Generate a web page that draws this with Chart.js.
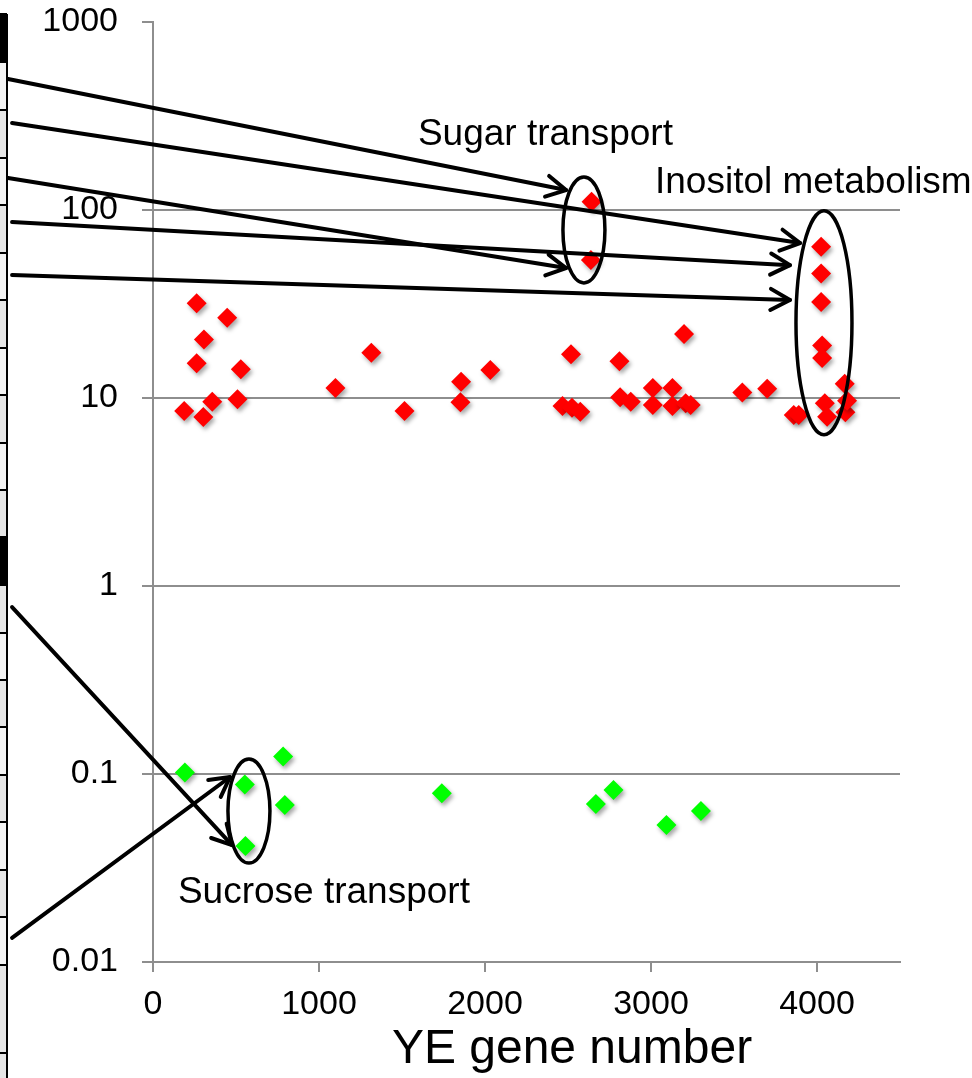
<!DOCTYPE html>
<html><head><meta charset="utf-8">
<script src="https://cdn.jsdelivr.net/npm/chart.js@4.4.1/dist/chart.umd.min.js"></script>
<style>html,body{margin:0;padding:0;background:#fff;}#wrap{width:972px;height:1078px;position:relative;}</style>
</head><body><div id="wrap"><canvas id="c" width="972" height="1078"></canvas></div>
<script>
// ---- data ----
const redGeneNumber = [188, 263, 263, 303, 307, 357, 447, 509, 529, 1099, 1315, 1515, 1852, 1856, 2032, 2467, 2518, 2524, 2574, 2638, 2642, 2810, 2814, 2878, 3011, 3011, 3129, 3129, 3199, 3209, 3239, 3550, 3700, 3860, 3890, 4025, 4025, 4025, 4031, 4031, 4047, 4061, 4167, 4171, 4181];
const redRatio = [8.53, 31.9, 15.3, 7.93, 20.5, 9.55, 26.7, 9.84, 14.2, 11.3, 17.4, 8.53, 9.49, 12.2, 14.1, 9.07, 17.1, 8.88, 8.45, 54.2, 110.7, 15.7, 10.1, 9.55, 11.3, 9.18, 11.3, 9.07, 21.9, 9.37, 9.18, 10.7, 11.2, 8.13, 8.13, 63.8, 46.0, 32.4, 19.0, 16.3, 9.37, 7.96, 11.9, 8.39, 9.67];
const greenGeneNumber = [192, 553, 557, 784, 794, 1740, 2668, 2774, 3093, 3301];
const greenRatio = [0.102, 0.088, 0.0414, 0.124, 0.0684, 0.0789, 0.0692, 0.0822, 0.0536, 0.0635];
const xTickValues = [0, 1000, 2000, 3000, 4000];
const yTickValues = [0.01, 0.1, 1, 10, 100, 1000];
const xAxisTitle = 'YE gene number';

// annotations, anchored in data units
const annotationTexts = [
  {text: 'Sugar transport', x: 1596, y: 250.6},
  {text: 'Inositol metabolism', x: 3024, y: 139.3},
  {text: 'Sucrose transport', x: 150, y: 0.0233}
];
const annotationEllipses = [
  {x: 2596, y: 78.3, rx: 21, ry: 53},
  {x: 4042, y: 25.1, rx: 28, ry: 112},
  {x: 578, y: 0.0635, rx: 21, ry: 52}
];
const annotationArrows = [
  {x0: -873, y0: 497.6, x1: 2488, y1: 127.7},
  {x0: -849, y0: 290.4, x1: 3898, y1: 66.7},
  {x0: -873, y0: 147.9, x1: 2488, y1: 49.1},
  {x0: -849, y0: 86.3, x1: 3837, y1: 50.9},
  {x0: -849, y0: 45.1, x1: 3837, y1: 33.2},
  {x0: -849, y0: 0.773, x1: 476, y1: 0.0419},
  {x0: -849, y0: 0.01343, x1: 464, y1: 0.0964}
];

const FONT = '"Liberation Sans", Arial, Helvetica, sans-serif';
const GRID = '#8e8e8e';

const shadowPlugin = {
  id: 'shadow',
  beforeDatasetsDraw(chart) {
    const ctx = chart.ctx;
    ctx.save();
    ctx.shadowColor = 'rgba(0,0,0,0.35)';
    ctx.shadowBlur = 4;
    ctx.shadowOffsetX = 2;
    ctx.shadowOffsetY = 3;
  },
  afterDatasetsDraw(chart) { chart.ctx.restore(); }
};

const leftStripPlugin = {
  id: 'leftStrip',
  beforeDraw(chart) {
    const ctx = chart.ctx;
    ctx.save();
    const lines = [14, 62, 110, 158, 205, 253, 300, 348, 395, 443, 490, 537, 585, 633, 680, 727, 775, 822, 870, 917, 965, 1053];
    for (let i = 0; i < lines.length - 1; i++) {
      ctx.fillStyle = (i % 2 === 0) ? '#e6e6e6' : '#f4f4f4';
      ctx.fillRect(0, lines[i], 7, lines[i + 1] - lines[i]);
    }
    ctx.fillStyle = '#e6e6e6';
    ctx.fillRect(0, 1053, 7, 25);
    ctx.fillStyle = '#000';
    ctx.fillRect(0, 14, 7, 48);
    ctx.fillRect(0, 537, 7, 48);
    ctx.fillRect(6, 14, 2, 1064);
    lines.forEach(y => ctx.fillRect(0, y - 1, 7, 2));
    ctx.restore();
  }
};

const annotationPlugin = {
  id: 'annot',
  afterDraw(chart) {
    const ctx = chart.ctx;
    const xs = chart.scales.x, ys = chart.scales.y;
    const px = v => xs.getPixelForValue(v), py = v => ys.getPixelForValue(v);
    ctx.save();
    ctx.strokeStyle = '#000';
    ctx.lineCap = 'round';
    ctx.lineJoin = 'round';
    ctx.lineWidth = 4;
    annotationArrows.forEach(a => {
      const x0 = px(a.x0), y0 = py(a.y0), x1 = px(a.x1), y1 = py(a.y1);
      ctx.beginPath(); ctx.moveTo(x0, y0); ctx.lineTo(x1, y1); ctx.stroke();
      const ang = Math.atan2(y1 - y0, x1 - x0), L = 22, sp = 0.5;
      ctx.beginPath();
      ctx.moveTo(x1 - L * Math.cos(ang - sp), y1 - L * Math.sin(ang - sp));
      ctx.lineTo(x1, y1);
      ctx.lineTo(x1 - L * Math.cos(ang + sp), y1 - L * Math.sin(ang + sp));
      ctx.stroke();
    });
    ctx.lineWidth = 3.5;
    annotationEllipses.forEach(e => {
      ctx.beginPath();
      ctx.ellipse(px(e.x), py(e.y), e.rx, e.ry, 0, 0, Math.PI * 2);
      ctx.stroke();
    });
    ctx.fillStyle = '#000';
    ctx.font = '37px ' + FONT;
    ctx.textBaseline = 'middle';
    ctx.textAlign = 'left';
    annotationTexts.forEach(t => ctx.fillText(t.text, px(t.x), py(t.y)));
    // axis title
    ctx.font = '48px ' + FONT;
    ctx.textAlign = 'center';
    ctx.textBaseline = 'alphabetic';
    ctx.fillText(xAxisTitle, 572, 1063);
    ctx.restore();
  }
};

new Chart(document.getElementById('c'), {
  type: 'scatter',
  data: {
    datasets: [
      {
        label: 'up',
        data: redGeneNumber.map((x, i) => ({x, y: redRatio[i]})),
        backgroundColor: '#ff0000', borderWidth: 0,
        pointStyle: 'rectRot', pointRadius: 10, pointHoverRadius: 10
      },
      {
        label: 'down',
        data: greenGeneNumber.map((x, i) => ({x, y: greenRatio[i]})),
        backgroundColor: '#00ff00', borderWidth: 0,
        pointStyle: 'rectRot', pointRadius: 10, pointHoverRadius: 10
      }
    ]
  },
  options: {
    responsive: false,
    animation: false,
    events: [],
    layout: {padding: {left: 0, right: 72, top: 22, bottom: 0}},
    plugins: {legend: {display: false}, tooltip: {enabled: false}, title: {display: false}},
    scales: {
      x: {
        type: 'linear', min: 0, max: 4500,
        afterBuildTicks: s => { s.ticks = xTickValues.map(v => ({value: v})); },
        afterFit: s => { s.height = 116; s.paddingLeft = 0; s.paddingRight = 0; },
        border: {display: true, color: GRID, width: 2},
        grid: {drawOnChartArea: false, drawTicks: true, tickLength: 10, color: GRID, lineWidth: 2},
        ticks: {color: '#000', font: {family: FONT, size: 34}, padding: 12, maxRotation: 0, autoSkip: false,
          callback: v => String(v)},
        title: {display: false}
      },
      y: {
        type: 'logarithmic', min: 0.01, max: 1000,
        afterBuildTicks: s => { s.ticks = yTickValues.map(v => ({value: v})); },
        afterFit: s => { s.width = 153; s.paddingTop = 0; s.paddingBottom = 0; },
        border: {display: true, color: GRID, width: 2},
        grid: {
          drawOnChartArea: true, drawTicks: true, tickLength: 11, lineWidth: 2,
          color: c => (c.tick && (c.tick.value === 1000 || c.tick.value === 0.01)) ? 'rgba(0,0,0,0)' : GRID,
          tickColor: GRID
        },
        ticks: {
          color: '#000', font: {family: FONT, size: 34}, padding: 24, autoSkip: false,
          callback: v => String(v)
        }
      }
    }
  },
  plugins: [leftStripPlugin, shadowPlugin, annotationPlugin]
});
</script></body></html>
